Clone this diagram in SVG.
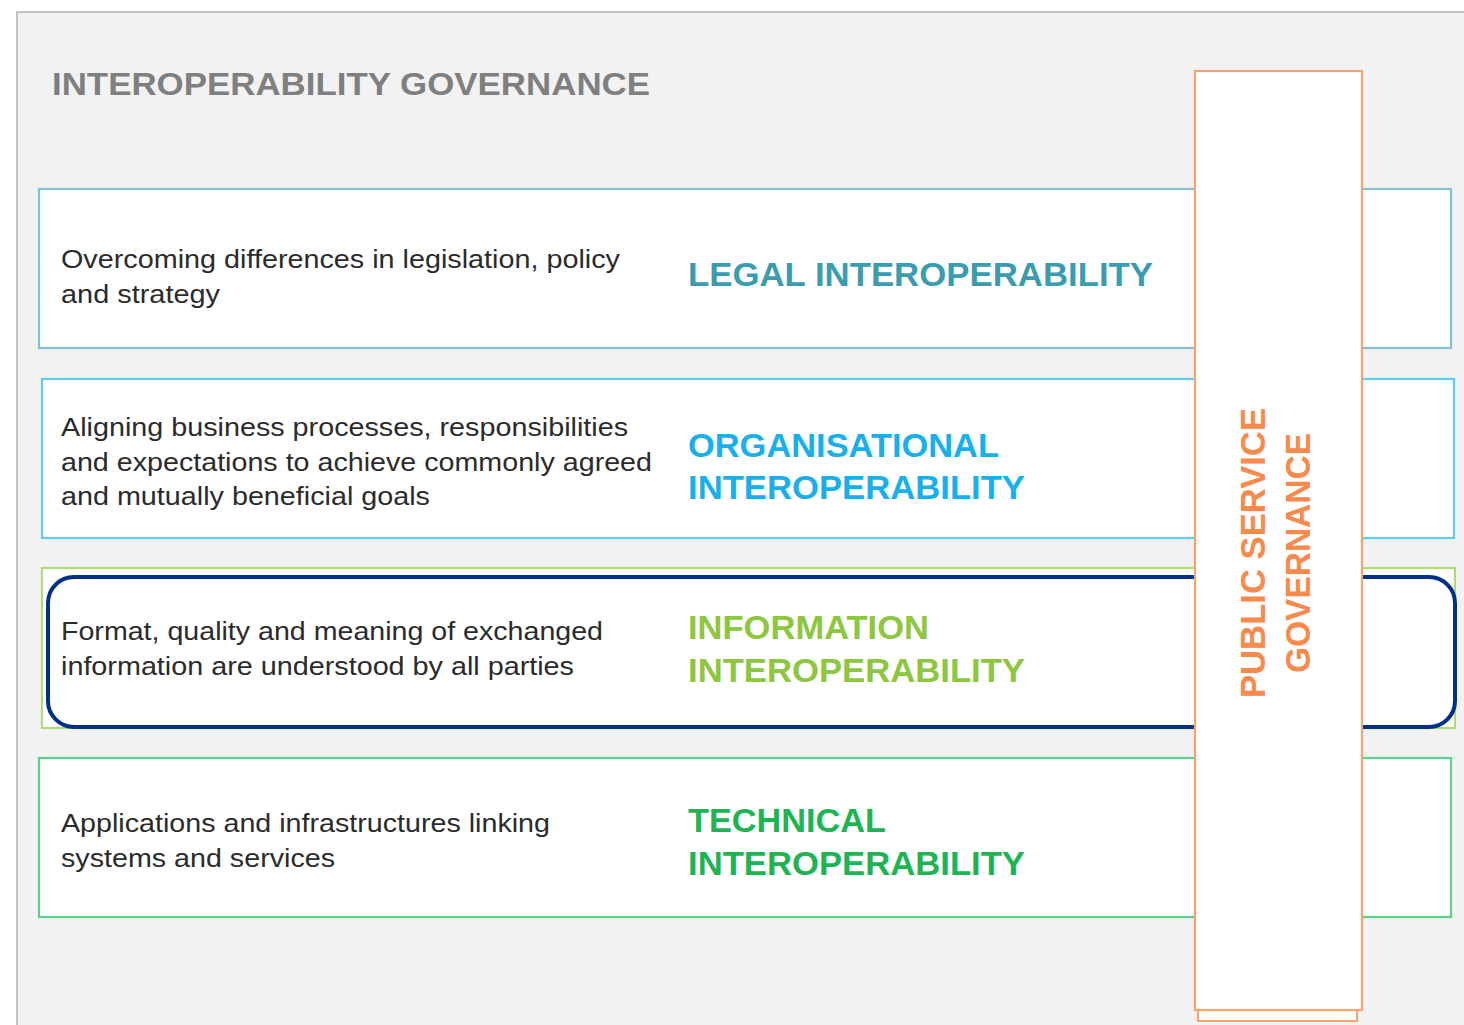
<svg xmlns="http://www.w3.org/2000/svg" width="1464" height="1025" viewBox="0 0 1464 1025">
<style>
.desc{font-family:"Liberation Sans",Arial,sans-serif;font-size:25px;fill:#2b2b2b}
.ttl{font-family:"Liberation Sans",Arial,sans-serif;font-size:33px;font-weight:bold}
.box{fill:#ffffff;stroke-width:2.2}
.vert{font-family:"Liberation Sans",Arial,sans-serif;font-size:35px;font-weight:bold;fill:#f98a4c}
</style>
<rect x="0" y="0" width="1464" height="1025" fill="#ffffff"/>
<rect x="17" y="12" width="1460" height="1025" fill="#f2f2f2" stroke="#c4c4c4" stroke-width="2"/>
<text x="52" y="95" font-family="Liberation Sans, Arial, sans-serif" font-size="32" font-weight="bold" fill="#7f7f7f" textLength="598" lengthAdjust="spacingAndGlyphs">INTEROPERABILITY GOVERNANCE</text>

<g id="legal">
<rect class="box" x="39" y="189" width="1412" height="159" stroke="#86c0cc"/>
<text class="desc" x="61" y="268" textLength="559" lengthAdjust="spacingAndGlyphs">Overcoming differences in legislation, policy</text>
<text class="desc" x="61" y="303" textLength="159" lengthAdjust="spacingAndGlyphs">and strategy</text>
<text class="ttl" x="688" y="286" fill="#3b9cb0" textLength="465" lengthAdjust="spacingAndGlyphs">LEGAL INTEROPERABILITY</text>
</g>

<g id="organisational">
<rect class="box" x="42" y="379" width="1412" height="159" stroke="#5fcdf5"/>
<text class="desc" x="61" y="436" textLength="567" lengthAdjust="spacingAndGlyphs">Aligning business processes, responsibilities</text>
<text class="desc" x="61" y="471" textLength="591" lengthAdjust="spacingAndGlyphs">and expectations to achieve commonly agreed</text>
<text class="desc" x="61" y="505" textLength="369" lengthAdjust="spacingAndGlyphs">and mutually beneficial goals</text>
<text class="ttl" x="688" y="457" fill="#18b0ec" textLength="311" lengthAdjust="spacingAndGlyphs">ORGANISATIONAL</text>
<text class="ttl" x="688" y="499" fill="#18b0ec" textLength="337" lengthAdjust="spacingAndGlyphs">INTEROPERABILITY</text>
</g>

<g id="information">
<rect class="box" x="42" y="568" width="1413" height="160" stroke="#b2d97a"/>
<rect x="48" y="577" width="1407" height="150" rx="26" ry="26" fill="#ffffff" stroke="#003087" stroke-width="4"/>
<text class="desc" x="61" y="640" textLength="542" lengthAdjust="spacingAndGlyphs">Format, quality and meaning of exchanged</text>
<text class="desc" x="61" y="675" textLength="513" lengthAdjust="spacingAndGlyphs">information are understood by all parties</text>
<text class="ttl" x="688" y="639" fill="#8dc63f" textLength="241" lengthAdjust="spacingAndGlyphs">INFORMATION</text>
<text class="ttl" x="688" y="682" fill="#8dc63f" textLength="337" lengthAdjust="spacingAndGlyphs">INTEROPERABILITY</text>
</g>

<g id="technical">
<rect class="box" x="39" y="758" width="1412" height="159" stroke="#5ccf8c"/>
<text class="desc" x="61" y="832" textLength="489" lengthAdjust="spacingAndGlyphs">Applications and infrastructures linking</text>
<text class="desc" x="61" y="867" textLength="274" lengthAdjust="spacingAndGlyphs">systems and services</text>
<text class="ttl" x="688" y="832" fill="#1db454" textLength="198" lengthAdjust="spacingAndGlyphs">TECHNICAL</text>
<text class="ttl" x="688" y="875" fill="#1db454" textLength="337" lengthAdjust="spacingAndGlyphs">INTEROPERABILITY</text>
</g>

<g id="public-service-governance">
<rect x="1198" y="80" width="159" height="941" fill="#ffffff" stroke="#f9a26c" stroke-width="2"/>
<rect x="1195" y="71" width="167" height="939" fill="#ffffff" stroke="#f9a26c" stroke-width="2.2"/>
<text class="vert" transform="translate(1265,553) rotate(-90)" text-anchor="middle" textLength="290" lengthAdjust="spacingAndGlyphs">PUBLIC SERVICE</text>
<text class="vert" transform="translate(1310,553) rotate(-90)" text-anchor="middle" textLength="240" lengthAdjust="spacingAndGlyphs">GOVERNANCE</text>
</g>

<g id="connectors"></g>
</svg>
